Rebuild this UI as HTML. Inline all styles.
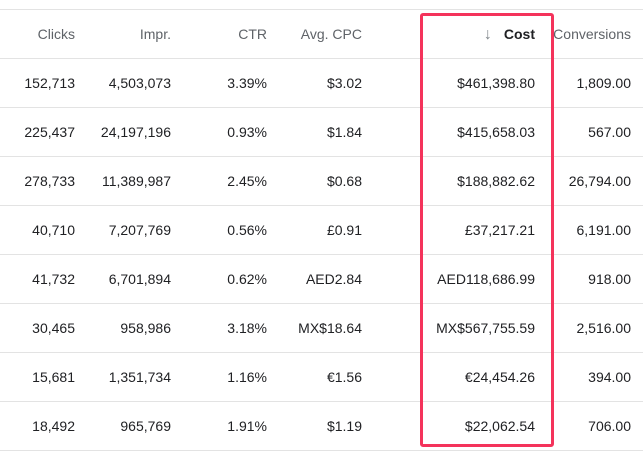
<!DOCTYPE html>
<html><head><style>
body{margin:0;width:643px;height:452px;background:#fff;font-family:"Liberation Sans",sans-serif;position:relative;overflow:hidden}
.l{position:absolute;left:0;width:643px;height:1px;background:#e3e3e3}
.t{position:absolute;font-size:14px;color:#202124;text-align:right;white-space:nowrap;line-height:16px}
.h{color:#5f6368}
.box{position:absolute;left:420px;top:13px;width:128px;height:428px;border:3px solid #f4335b;border-radius:3px}
</style></head><body>
<div class="l" style="top:9px"></div>
<div class="l" style="top:58px"></div>
<div class="l" style="top:107px"></div>
<div class="l" style="top:156px"></div>
<div class="l" style="top:205px"></div>
<div class="l" style="top:254px"></div>
<div class="l" style="top:303px"></div>
<div class="l" style="top:352px"></div>
<div class="l" style="top:401px"></div>
<div class="l" style="top:450px"></div>
<div class="box"></div>
<div id="c"></div>
<script>
var rows=[["Clicks","Impr.","CTR","Avg. CPC","Cost","Conversions"],
["152,713","4,503,073","3.39%","$3.02","$461,398.80","1,809.00"],
["225,437","24,197,196","0.93%","$1.84","$415,658.03","567.00"],
["278,733","11,389,987","2.45%","$0.68","$188,882.62","26,794.00"],
["40,710","7,207,769","0.56%","£0.91","£37,217.21","6,191.00"],
["41,732","6,701,894","0.62%","AED2.84","AED118,686.99","918.00"],
["30,465","958,986","3.18%","MX$18.64","MX$567,755.59","2,516.00"],
["15,681","1,351,734","1.16%","€1.56","€24,454.26","394.00"],
["18,492","965,769","1.91%","$1.19","$22,062.54","706.00"]];
var rights=[75,171,267,362,535,631];
var h="";
rows.forEach(function(r,i){var y=(i==0?34:83+49*(i-1))-8;
r.forEach(function(v,j){var cls="t"+(i==0?" h":"");var st="";
if(i==0&&j==4){st="font-weight:bold;color:#202124;";v='<span style="color:#80868b;font-weight:normal;margin-right:12px;font-size:16px">↓</span>'+v;}
h+='<div class="'+cls+'" style="'+st+'right:'+(643-rights[j])+'px;top:'+y+'px">'+v+'</div>';});});
document.getElementById("c").innerHTML=h;
</script>
</body></html>
